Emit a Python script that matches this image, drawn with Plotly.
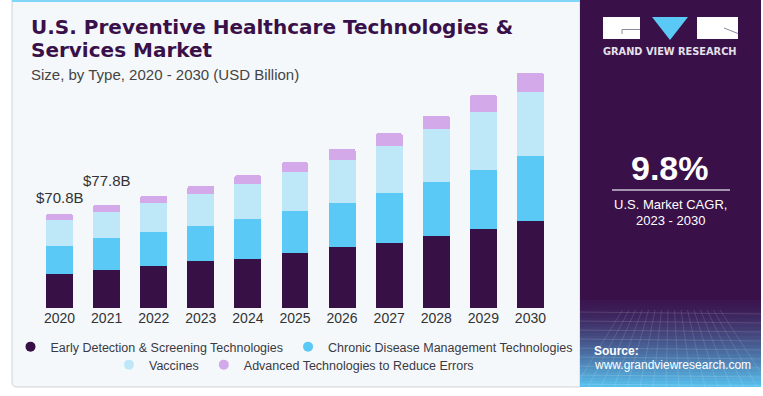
import plotly.graph_objects as go

W, H = 763, 396

years = ["2020", "2021", "2022", "2023", "2024", "2025", "2026", "2027", "2028", "2029", "2030"]
early_detection = [25.6, 29.0, 31.6, 35.2, 37.1, 41.2, 45.7, 49.2, 54.2, 59.7, 65.8]
chronic_disease = [21.3, 23.7, 25.6, 26.6, 29.9, 31.9, 33.6, 37.2, 40.9, 44.0, 49.0]
vaccines = [19.4, 19.8, 22.1, 24.1, 26.4, 29.4, 32.4, 35.9, 39.7, 43.7, 47.8]
advanced_tech = [4.5, 5.3, 5.3, 6.0, 6.6, 7.3, 8.1, 9.3, 10.0, 13.0, 14.5]
series_names = ["Early Detection & Screening Technologies", "Chronic Disease Management Technologies",
                "Vaccines", "Advanced Technologies to Reduce Errors"]
labelled_years = ["2020", "2021"]

colors = ["#371046", "#5bc9f5", "#bee8f8", "#d4a9ea"]
series = [early_detection, chronic_disease, vaccines, advanced_tech]


def px(x):
    return x / W


def py(y):
    return 1 - y / H


fig = go.Figure()
legend_ids = ["legend", "legend", "legend2", "legend2"]
for name, vals, col, lg in zip(series_names, series, colors, legend_ids):
    fig.add_trace(go.Bar(x=years, y=vals, name=name, marker=dict(color=col, line=dict(width=0)),
                         showlegend=False, legendgroup=name))
    fig.add_trace(go.Scatter(x=[years[0]], y=[None], mode="markers", name=name, legendgroup=name,
                             marker=dict(color=col, size=10, symbol="circle"), legend=lg))

totals = [sum(v) for v in zip(*series)]
shifts = {"2020": 6, "2021": 14}
annotations = []
for yr in labelled_years:
    i = years.index(yr)  # category axis position
    annotations.append(dict(x=i, y=totals[i], xref="x", yref="y", text=f"${totals[i]:.1f}B",
                            showarrow=False, yanchor="bottom", yshift=shifts[yr],
                            font=dict(family="Liberation Sans", size=15, color="#333333")))

# Titles
title_font = dict(family="DejaVu Sans", size=20, color="#3a1049", weight="bold")
annotations += [
    dict(x=px(29), y=py(27.5), xref="paper", yref="paper", xanchor="left", yanchor="middle",
         text="<b>U.S. Preventive Healthcare Technologies &</b>", showarrow=False, font=title_font),
    dict(x=px(29), y=py(50), xref="paper", yref="paper", xanchor="left", yanchor="middle",
         text="<b>Services Market</b>", showarrow=False, font=title_font),
    dict(x=px(29), y=py(74.5), xref="paper", yref="paper", xanchor="left", yanchor="middle",
         text="Size, by Type, 2020 - 2030 (USD Billion)", showarrow=False,
         font=dict(family="Liberation Sans", size=15, color="#444444")),
]

# Right panel texts
annotations += [
    dict(x=px(670), y=py(52), xref="paper", yref="paper", xanchor="center", yanchor="middle",
         text="<b>GRAND VIEW RESEARCH</b>", showarrow=False,
         font=dict(family="DejaVu Sans", size=9.8, color="#e6e0ea")),
    dict(x=px(670), y=py(168), xref="paper", yref="paper", xanchor="center", yanchor="middle",
         text="<b>9.8%</b>", showarrow=False,
         font=dict(family="Liberation Sans", size=34, color="#ffffff")),
    dict(x=px(670), y=py(205), xref="paper", yref="paper", xanchor="center", yanchor="middle",
         text="U.S. Market CAGR,", showarrow=False,
         font=dict(family="Liberation Sans", size=13, color="#ffffff")),
    dict(x=px(670), y=py(220.5), xref="paper", yref="paper", xanchor="center", yanchor="middle",
         text="2023 - 2030", showarrow=False,
         font=dict(family="Liberation Sans", size=13, color="#ffffff")),
    dict(x=px(592), y=py(351), xref="paper", yref="paper", xanchor="left", yanchor="middle",
         text="<b>Source:</b>", showarrow=False,
         font=dict(family="Liberation Sans", size=12, color="#ffffff")),
    dict(x=px(592), y=py(365), xref="paper", yref="paper", xanchor="left", yanchor="middle",
         text="www.grandviewresearch.com", showarrow=False,
         font=dict(family="Liberation Sans", size=12, color="#ffffff")),
]

shapes = []
# left panel
shapes.append(dict(type="path", xref="paper", yref="paper",
                   path=f"M {px(12)} {py(0)} L {px(580)} {py(0)} L {px(580)} {py(387)} L {px(17)} {py(387)} "
                        f"Q {px(12)} {py(387)} {px(12)} {py(382)} Z",
                   fillcolor="#f4f8fb", line=dict(color="#cfd3d7", width=1), layer="below"))
shapes.append(dict(type="rect", xref="paper", yref="paper", x0=px(12), x1=px(580), y0=py(0), y1=py(2),
                   fillcolor="#7fd6f7", line=dict(width=0), layer="below"))
# right panel
shapes.append(dict(type="rect", xref="paper", yref="paper", x0=px(580), x1=px(761), y0=py(0), y1=py(387),
                   fillcolor="#3a1049", line=dict(width=0), layer="below"))
c0 = (0x3c, 0x16, 0x50)
c1 = (0x58, 0xbe, 0xec)
y_start, y_end = 300, 387
n = 29
for i in range(n):
    t = i / (n - 1)
    tt = t ** 1.3
    if i == 0:
        tt = 0
    col = tuple(int(a + (b - a) * tt) for a, b in zip(c0, c1))
    ya = y_start + (y_end - y_start) * i / n
    yb = y_start + (y_end - y_start) * (i + 1) / n
    shapes.append(dict(type="rect", xref="paper", yref="paper", x0=px(580), x1=px(761), y0=py(ya), y1=py(yb),
                       fillcolor="rgb(%d,%d,%d)" % col, line=dict(width=0), layer="below"))
# faint perspective grid
for k in range(9):
    yy = 312 + k * 9
    shapes.append(dict(type="line", xref="paper", yref="paper", x0=px(580), x1=px(761), y0=py(yy), y1=py(yy + 2),
                       line=dict(color="rgba(255,255,255,0.13)", width=1), layer="below"))
for k in range(16):
    xb = 575 + k * 13
    shapes.append(dict(type="line", xref="paper", yref="paper", x0=px(670 + (xb - 670) * 0.5), x1=px(xb),
                       y0=py(310), y1=py(387),
                       line=dict(color="rgba(255,255,255,0.12)", width=1), layer="below"))
# logo
shapes += [
    dict(type="rect", xref="paper", yref="paper", x0=px(603), x1=px(640), y0=py(17), y1=py(39),
         fillcolor="#ffffff", line=dict(width=0)),
    dict(type="path", xref="paper", yref="paper",
         path=f"M {px(622)} {py(34)} L {px(622)} {py(29.5)} L {px(640)} {py(29.5)}",
         line=dict(color="#8a8a9a", width=1)),
    dict(type="path", xref="paper", yref="paper",
         path=f"M {px(652)} {py(17)} L {px(688)} {py(17)} L {px(670)} {py(40)} Z",
         fillcolor="#5bc9f5", line=dict(width=0)),
    dict(type="rect", xref="paper", yref="paper", x0=px(697), x1=px(738), y0=py(17), y1=py(39),
         fillcolor="#ffffff", line=dict(width=0)),
    dict(type="line", xref="paper", yref="paper", x0=px(724), x1=px(738), y0=py(28), y1=py(33.5),
         line=dict(color="#8a8a9a", width=1)),
    dict(type="line", xref="paper", yref="paper", x0=px(612), x1=px(730), y0=py(190), y1=py(190),
         line=dict(color="#c9c0d2", width=1.5)),
]

legend_font = dict(family="Liberation Sans", size=12.5, color="#3a3a44")
fig.update_layout(
    width=W, height=H,
    margin=dict(l=0, r=0, t=0, b=0, autoexpand=False),
    paper_bgcolor="#ffffff",
    plot_bgcolor="rgba(0,0,0,0)",
    barmode="stack",
    bargap=0.43,
    barcornerradius=2,
    xaxis=dict(type="category", categoryorder="array", categoryarray=years, autotypenumbers="strict",
               range=[-0.5, len(years) - 0.5],
               domain=[px(36), px(554)], showline=False, showgrid=False, zeroline=False,
               ticks="", automargin=False,
               tickfont=dict(family="Liberation Sans", size=14, color="#333333")),
    yaxis=dict(domain=[py(308), py(70)], range=[0, 179.3], visible=False, automargin=False),
    legend=dict(orientation="h", x=px(294), xanchor="center", y=py(347), yanchor="middle",
                bgcolor="rgba(0,0,0,0)", font=legend_font, itemwidth=30, traceorder="normal"),
    legend2=dict(orientation="h", x=px(294), xanchor="center", y=py(365), yanchor="middle",
                 bgcolor="rgba(0,0,0,0)", font=legend_font, itemwidth=30, traceorder="normal"),
    annotations=annotations,
    shapes=shapes,
)

fig.write_html("out.html", config={"displayModeBar": False},
               post_script="document.body.style.margin='0';document.body.style.overflow='hidden';")
